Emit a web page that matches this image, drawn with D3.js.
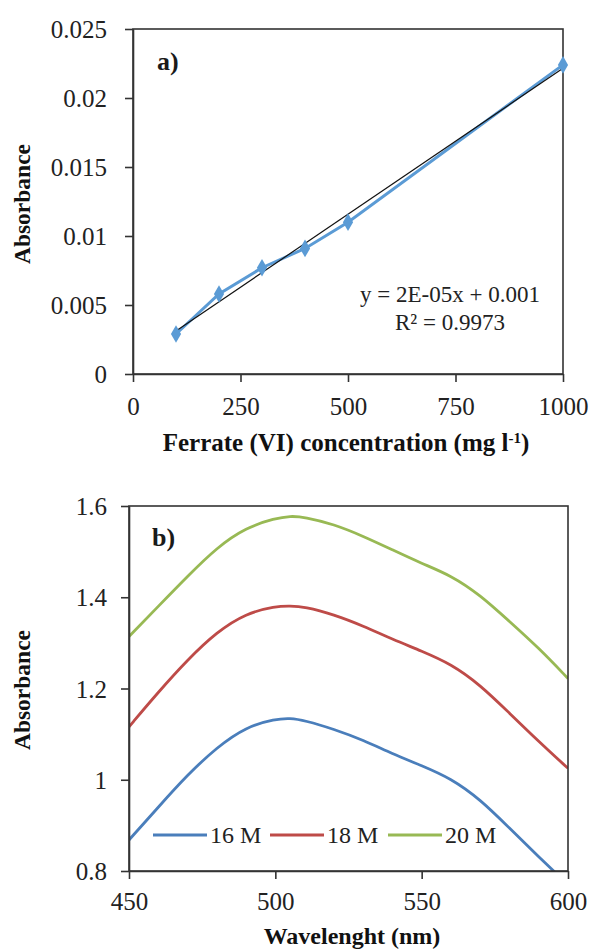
<!DOCTYPE html>
<html>
<head>
<meta charset="utf-8">
<script src="https://cdn.jsdelivr.net/npm/d3@7"></script>
<style>
  html, body { margin: 0; padding: 0; background: #fff; }
  svg { display: block; }
</style>
</head>
<body>
<svg id="chart" width="592" height="949"></svg>
<script>
// ---- Panel a) data ----
const concentrations = [100, 200, 300, 400, 500, 1000];
const absorbanceA = [0.0029, 0.0058, 0.0077, 0.0091, 0.0110, 0.0224];
const xTicksA = [0, 250, 500, 750, 1000];
const yTicksA = [0, 0.005, 0.01, 0.015, 0.02, 0.025];
const yTickLabelsA = ["0", "0.005", "0.01", "0.015", "0.02", "0.025"];
const equationLines = ["y = 2E-05x + 0.001", "R\u00B2 = 0.9973"];

// ---- Panel b) data ----
const wavelengths = [450, 460, 470, 480, 490, 500, 505, 510, 520, 530, 540, 550, 560, 570, 580, 590, 600];
const abs16M = [0.868, 0.940, 1.011, 1.071, 1.116, 1.133, 1.135, 1.130, 1.111, 1.087, 1.057, 1.031, 1.003, 0.957, 0.894, 0.831, 0.770];
const abs18M = [1.116, 1.192, 1.263, 1.324, 1.365, 1.380, 1.381, 1.379, 1.362, 1.337, 1.308, 1.282, 1.254, 1.208, 1.146, 1.084, 1.025];
const abs20M = [1.314, 1.380, 1.446, 1.509, 1.553, 1.573, 1.578, 1.576, 1.560, 1.534, 1.504, 1.474, 1.448, 1.405, 1.347, 1.289, 1.222];
const seriesNames = ["16 M", "18 M", "20 M"];
const xTicksB = [450, 500, 550, 600];
const yTicksB = [0.8, 1.0, 1.2, 1.4, 1.6];
const yTickLabelsB = ["0.8", "1", "1.2", "1.4", "1.6"];

const FONT = '"Liberation Serif", "Times New Roman", Times, serif';
const svg = d3.select("#chart");
const axisColor = "#333";
const textColor = "#222";
const tickFont = 25;

function styleAxis(a) {
  a.attr("font-family", null).attr("font-size", null);
  a.select(".domain").attr("stroke", axisColor).attr("stroke-width", 1.6);
  a.selectAll(".tick line").attr("stroke", axisColor).attr("stroke-width", 1.6);
  a.selectAll(".tick text").style("font-family", FONT).style("font-size", tickFont + "px")
    .attr("fill", textColor);
}

// ================= Panel a =================
const xA = d3.scaleLinear().domain([0, 1000]).range([133, 563]);
const yA = d3.scaleLinear().domain([0, 0.025]).range([374, 29]);
const gA = svg.append("g");

gA.append("rect")
  .attr("x", xA(0)).attr("y", yA(0.025))
  .attr("width", xA(1000) - xA(0)).attr("height", yA(0) - yA(0.025))
  .attr("fill", "none").attr("stroke", axisColor).attr("stroke-width", 1.6);

const axLeftA = gA.append("g").attr("transform", `translate(${xA(0)},0)`)
  .call(d3.axisLeft(yA).tickValues(yTicksA).tickSize(8).tickSizeOuter(0).tickPadding(18)
    .tickFormat((d, i) => yTickLabelsA[i]));
const axBotA = gA.append("g").attr("transform", `translate(0,${yA(0)})`)
  .call(d3.axisBottom(xA).tickValues(xTicksA).tickSize(8).tickSizeOuter(0)
    .tickFormat(d3.format("d")));
styleAxis(axLeftA); styleAxis(axBotA);
axLeftA.selectAll(".tick text").attr("dy", "0.34em");
axBotA.selectAll(".tick text").attr("y", 41).attr("dy", null);

const ptsA = concentrations.map((c, i) => [c, absorbanceA[i]]);
const blueA = "#5B9BD5";
gA.append("path")
  .datum(ptsA)
  .attr("fill", "none").attr("stroke", blueA).attr("stroke-width", 3)
  .attr("d", d3.line().x(d => xA(d[0])).y(d => yA(d[1])));

// linear trendline (least squares from the data)
const mx = d3.mean(concentrations), my = d3.mean(absorbanceA);
const slope = d3.sum(ptsA, d => (d[0] - mx) * (d[1] - my)) / d3.sum(ptsA, d => (d[0] - mx) ** 2);
const intercept = my - slope * mx;
const xr = d3.extent(concentrations);
gA.append("line")
  .attr("x1", xA(xr[0])).attr("y1", yA(intercept + slope * xr[0]))
  .attr("x2", xA(xr[1])).attr("y2", yA(intercept + slope * xr[1]))
  .attr("stroke", "#111").attr("stroke-width", 1.2);

gA.selectAll("path.mk").data(ptsA).join("path")
  .attr("class", "mk")
  .attr("transform", d => `translate(${xA(d[0])},${yA(d[1])})`)
  .attr("d", d3.symbol().type(d3.symbolDiamond).size(90))
  .attr("fill", blueA);

gA.selectAll("text.eq").data(equationLines).join("text")
  .attr("class", "eq")
  .attr("x", 450).attr("y", (d, i) => 302 + i * 28)
  .attr("text-anchor", "middle").attr("fill", textColor)
  .style("font-family", FONT).style("font-size", "23px")
  .text(d => d);

gA.append("text").attr("x", 157).attr("y", 70)
  .style("font-family", FONT).style("font-size", "26px").style("font-weight", "bold")
  .attr("fill", "#1a1a1a").text("a)");

gA.append("text")
  .attr("transform", "translate(30,204) rotate(-90)")
  .attr("text-anchor", "middle")
  .style("font-family", FONT).style("font-size", "23.5px").style("font-weight", "bold")
  .attr("fill", "#111").text("Absorbance");
const tA = gA.append("text").attr("x", 346).attr("y", 451)
  .attr("text-anchor", "middle")
  .style("font-family", FONT).style("font-size", "25px").style("font-weight", "bold")
  .attr("fill", "#111");
tA.append("tspan").text("Ferrate (VI) concentration (mg l");
tA.append("tspan").attr("baseline-shift", "super").style("font-size", "15px").text("-1");
tA.append("tspan").text(")");

// ================= Panel b =================
const xB = d3.scaleLinear().domain([450, 600]).range([129, 568]);
const yB = d3.scaleLinear().domain([0.8, 1.6]).range([871, 506]);
const gB = svg.append("g");

svg.append("defs").append("clipPath").attr("id", "clipB")
  .append("rect").attr("x", xB(450)).attr("y", yB(1.6))
  .attr("width", xB(600) - xB(450)).attr("height", yB(0.8) - yB(1.6));

const colorsB = ["#4A7EBB", "#BE4B48", "#98B954"];
const seriesB = [abs16M, abs18M, abs20M];

const lineB = d3.line().x(d => xB(d[0])).y(d => yB(d[1])).curve(d3.curveBasis);
gB.append("g").attr("clip-path", "url(#clipB)")
  .selectAll("path").data(seriesB).join("path")
  .attr("fill", "none").attr("stroke", (d, i) => colorsB[i]).attr("stroke-width", 2.8)
  .attr("d", s => lineB(wavelengths.map((w, i) => [w, s[i]])));

gB.append("rect")
  .attr("x", xB(450)).attr("y", yB(1.6))
  .attr("width", xB(600) - xB(450)).attr("height", yB(0.8) - yB(1.6))
  .attr("fill", "none").attr("stroke", axisColor).attr("stroke-width", 1.6);

const axLeftB = gB.append("g").attr("transform", `translate(${xB(450)},0)`)
  .call(d3.axisLeft(yB).tickValues(yTicksB).tickSize(8).tickSizeOuter(0).tickPadding(14)
    .tickFormat((d, i) => yTickLabelsB[i]));
const axBotB = gB.append("g").attr("transform", `translate(0,${yB(0.8)})`)
  .call(d3.axisBottom(xB).tickValues(xTicksB).tickSize(8).tickSizeOuter(0)
    .tickFormat(d3.format("d")));
styleAxis(axLeftB); styleAxis(axBotB);
axLeftB.selectAll(".tick text").attr("dy", "0.34em");
axBotB.selectAll(".tick text").attr("y", 39).attr("dy", null);

const legX = [153, 270, 388];
const legG = gB.selectAll("g.leg").data(seriesNames).join("g").attr("class", "leg")
  .attr("transform", (d, i) => `translate(${legX[i]},835)`);
legG.append("line").attr("x1", 0).attr("x2", 54).attr("y1", 0).attr("y2", 0)
  .attr("stroke", (d, i) => colorsB[i]).attr("stroke-width", 3);
legG.append("text").attr("x", 57).attr("y", 8).attr("fill", textColor)
  .style("font-family", FONT).style("font-size", "24px")
  .text(d => d);

gB.append("text").attr("x", 152).attr("y", 546)
  .style("font-family", FONT).style("font-size", "26px").style("font-weight", "bold")
  .attr("fill", "#1a1a1a").text("b)");

gB.append("text")
  .attr("transform", "translate(30,690) rotate(-90)")
  .attr("text-anchor", "middle")
  .style("font-family", FONT).style("font-size", "23.5px").style("font-weight", "bold")
  .attr("fill", "#111").text("Absorbance");
gB.append("text").attr("x", 352).attr("y", 944)
  .attr("text-anchor", "middle")
  .style("font-family", FONT).style("font-size", "24px").style("font-weight", "bold")
  .attr("fill", "#111").text("Wavelenght (nm)");
</script>
</body>
</html>
